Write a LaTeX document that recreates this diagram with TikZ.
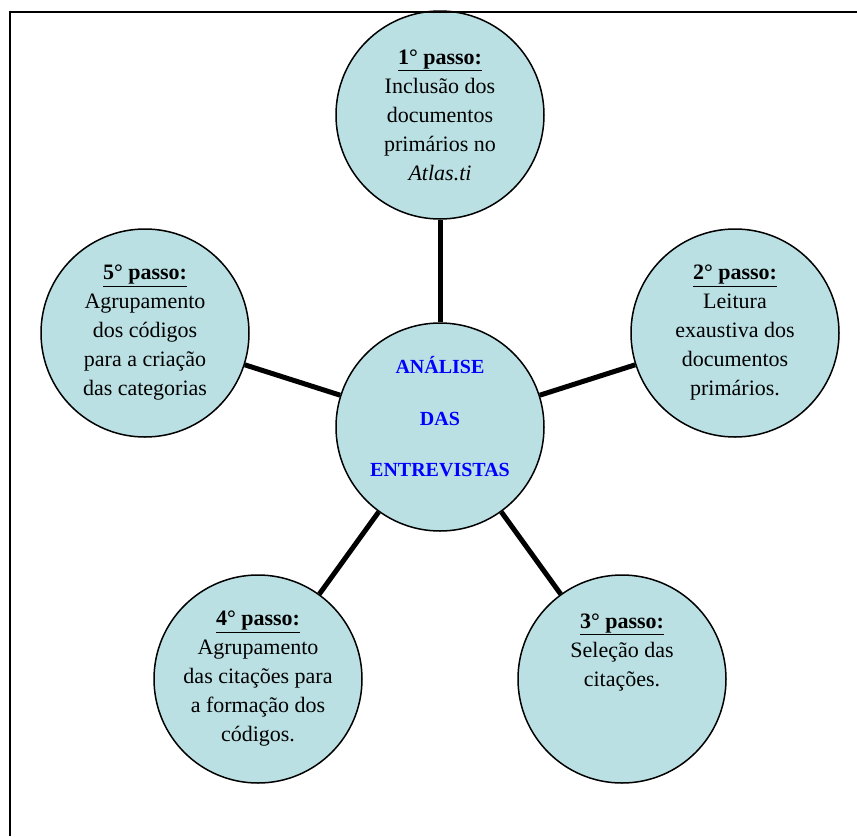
\documentclass[tikz,border=0pt]{standalone}
\usepackage{fontspec}
\setmainfont{Liberation Serif}
\usepackage{tikz}
\definecolor{passofill}{RGB}{186,224,227}

\begin{document}
\begin{tikzpicture}[x=1pt, y=-1pt,
  passo/.style={circle, draw, line width=1.5pt, fill=passofill, minimum size=208pt, inner sep=0pt, align=center, font=\fontsize{22}{29}\selectfont},
  titulo/.style={align=center, text=blue, font=\fontsize{20}{51.5}\selectfont\bfseries},
  elo/.style={line width=5pt}]
\useasboundingbox (0,0) rectangle (857,836);
% circulos
\node[passo] (centro) at (440,427) {};
\node[titulo] (centrotexto) at (440,417) {ANÁLISE\\DAS\\ENTREVISTAS};
\node[passo] (p1) at (440,115) {\underline{\textbf{1° passo:}}\\Inclusão dos\\documentos\\primários no\\\textit{Atlas.ti}};
\node[passo] (p2) at (735,333) {\underline{\textbf{2° passo:}}\\Leitura\\exaustiva dos\\documentos\\primários.};
\node[passo] (p3) at (622,679) {\underline{\textbf{3° passo:}}\\Seleção das\\citações.\\~\\~};
\node[passo] (p4) at (258,679) {\underline{\textbf{4° passo:}}\\Agrupamento\\das citações para\\a formação dos\\códigos.};
\node[passo] (p5) at (145,333) {\underline{\textbf{5° passo:}}\\Agrupamento\\dos códigos\\para a criação\\das categorias};
% ligacoes
\foreach \p in {p1,p2,p3,p4,p5}
  \draw[elo] (centro) -- (\p);
% moldura
\draw[line width=2.5pt] (10,836) -- (10,12) -- (857,12);
\end{tikzpicture}
\end{document}
